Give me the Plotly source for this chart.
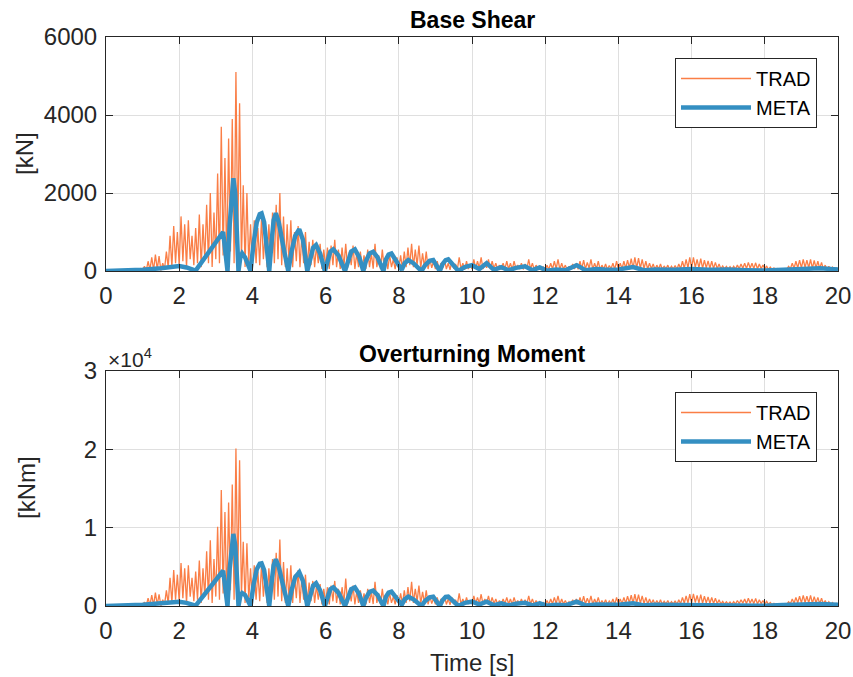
import numpy as np
import plotly.graph_objects as go

# ---------------- data ----------------
# TRAD sampled every 0.05 s from 0 to 20 s (alternating trough / peak)
trad_t = np.linspace(0, 20, 401)

trad_shear = [
    0, 5, 0, 10, 2, 15, 3, 20, 5, 25, 5, 30, 8, 35, 10, 40, 10, 50, 15, 60,
    20, 120, 10, 250, 30, 350, 20, 420, 40, 380, 10, 200, 50, 500, 80, 900, 100, 1150, 200, 1000,
    150, 1400, 250, 1200, 100, 1300, 300, 900, 150, 1100, 200, 1450, 100, 1200, 300, 1700, 200, 2000, 100, 1500,
    300, 2500, 200, 3700, 400, 2900, 100, 3400, 500, 3900, 200, 5100, 800, 4300, 300, 2200, 100, 2000, 200, 1200,
    100, 1300, 200, 1100, 150, 1400, 300, 1000, 100, 1200, 250, 1500, 200, 1700, 300, 2000, 150, 1400, 100, 1200,
    200, 1300, 100, 1000, 250, 1150, 100, 900, 200, 1000, 100, 750, 150, 800, 100, 650, 200, 700, 50, 550,
    100, 600, 50, 650, 150, 800, 100, 550, 50, 600, 100, 700, 80, 500, 150, 650, 50, 450, 100, 500,
    80, 400, 50, 550, 100, 450, 60, 700, 100, 400, 50, 550, 80, 350, 50, 400, 100, 300, 50, 350,
    80, 400, 50, 500, 100, 600, 150, 700, 100, 550, 150, 650, 80, 450, 100, 500, 50, 300, 80, 250,
    50, 250, 30, 200, 80, 300, 50, 200, 30, 250, 60, 180, 40, 350, 50, 200, 30, 250, 50, 150,
    50, 300, 60, 250, 80, 350, 50, 200, 80, 300, 50, 250, 70, 200, 50, 150, 40, 200, 60, 250,
    50, 200, 40, 250, 60, 150, 50, 200, 40, 180, 60, 300, 50, 200, 40, 150, 50, 120, 40, 100,
    30, 150, 40, 200, 50, 250, 60, 300, 40, 200, 50, 150, 30, 120, 40, 180, 50, 200, 40, 250,
    60, 280, 50, 220, 70, 300, 40, 200, 60, 250, 40, 150, 50, 180, 40, 140, 60, 200, 40, 250,
    50, 200, 60, 250, 70, 280, 80, 320, 70, 350, 80, 330, 70, 300, 60, 250, 50, 200, 60, 180,
    40, 150, 50, 180, 40, 130, 50, 150, 40, 120, 50, 140, 40, 180, 60, 250, 70, 300, 80, 350,
    80, 350, 90, 300, 80, 320, 70, 280, 80, 260, 70, 250, 60, 220, 60, 180, 50, 130, 50, 120,
    50, 110, 40, 120, 50, 150, 60, 180, 70, 200, 60, 220, 70, 200, 60, 210, 50, 180, 60, 150,
    50, 130, 40, 100, 30, 80, 30, 60, 20, 50, 30, 60, 40, 120, 60, 200, 70, 250, 80, 280,
    80, 300, 90, 280, 80, 300, 70, 270, 80, 250, 60, 220, 50, 150, 40, 120, 30, 100, 30, 80, 30,
]

trad_moment = [
    0, 20, 0, 40, 10, 60, 10, 80, 20, 100, 20, 120, 30, 140, 40, 160, 40, 200, 60, 240,
    80, 500, 40, 1000, 120, 1400, 80, 1700, 160, 1500, 40, 800, 200, 2000, 300, 3600, 400, 4600, 800, 4000,
    600, 5500, 1000, 4800, 400, 5200, 1200, 3600, 600, 4400, 800, 5800, 400, 4800, 1200, 7000, 800, 8400, 400, 6000,
    1200, 10100, 800, 14800, 1600, 12000, 400, 13200, 2000, 15500, 800, 20100, 3200, 18600, 1200, 8200, 400, 8000, 800, 4800,
    400, 5200, 800, 4400, 600, 5450, 1200, 4000, 400, 4800, 1000, 6000, 800, 6800, 1200, 8500, 600, 5600, 400, 4800,
    800, 5200, 400, 4000, 1000, 4600, 400, 3600, 800, 4000, 400, 3000, 600, 3200, 400, 2600, 800, 2800, 200, 2200,
    400, 2400, 200, 2600, 600, 3200, 400, 2200, 200, 2400, 400, 3500, 300, 2000, 600, 2600, 200, 1800, 400, 2000,
    300, 1600, 200, 2200, 400, 1800, 250, 3100, 400, 1600, 200, 2200, 300, 1400, 200, 1600, 400, 1200, 200, 1400,
    300, 1600, 200, 2000, 400, 2400, 600, 3100, 400, 2200, 600, 2600, 300, 1800, 400, 2000, 200, 1200, 300, 1000,
    200, 1100, 150, 900, 350, 1300, 200, 900, 150, 1100, 250, 800, 200, 1600, 250, 900, 150, 1100, 250, 700,
    250, 1300, 300, 1100, 350, 1500, 250, 900, 350, 1300, 250, 1100, 300, 900, 250, 700, 200, 900, 300, 1100,
    250, 900, 200, 1100, 300, 700, 250, 900, 200, 800, 300, 1300, 250, 900, 200, 700, 250, 550, 200, 450,
    150, 700, 200, 900, 250, 1100, 300, 1300, 200, 900, 250, 700, 150, 550, 200, 800, 250, 900, 200, 1100,
    300, 1250, 250, 1000, 350, 1300, 200, 900, 300, 1100, 200, 700, 250, 800, 200, 650, 300, 900, 200, 1100,
    250, 900, 300, 1100, 350, 1250, 400, 1400, 350, 1500, 400, 1450, 350, 1300, 300, 1100, 250, 900, 300, 800,
    200, 700, 250, 800, 200, 600, 250, 700, 200, 550, 250, 650, 200, 800, 300, 1100, 350, 1300, 400, 1500,
    400, 1550, 450, 1350, 400, 1450, 350, 1250, 400, 1150, 350, 1100, 300, 1000, 300, 800, 250, 600, 250, 550,
    250, 500, 200, 550, 250, 700, 300, 800, 350, 900, 300, 1000, 350, 900, 300, 950, 250, 800, 300, 700,
    250, 600, 200, 450, 150, 350, 150, 280, 100, 230, 150, 280, 200, 550, 300, 900, 350, 1100, 400, 1250,
    400, 1350, 450, 1250, 400, 1350, 350, 1200, 400, 1100, 300, 1000, 250, 700, 200, 550, 150, 450, 150, 350, 150,
]

# META (smoother response)
meta_t = [
    0.0, 0.5, 1.0, 1.5, 1.8, 2.0, 2.2, 2.45,
    3.2, 3.32, 3.38, 3.44, 3.48, 3.53, 3.58, 3.62, 3.67, 3.72, 3.8, 3.88, 3.95,
    4.03, 4.12, 4.2, 4.25, 4.32, 4.4, 4.46,
    4.52, 4.58, 4.64, 4.72, 4.85, 4.98,
    5.07, 5.17, 5.28, 5.38, 5.5,
    5.58, 5.66, 5.74, 5.85, 5.98,
    6.06, 6.13, 6.21, 6.35, 6.53,
    6.62, 6.7, 6.8, 6.92, 7.03,
    7.1, 7.2, 7.3, 7.42, 7.58,
    7.65, 7.72, 7.8, 7.95, 8.08,
    8.16, 8.26, 8.4, 8.62,
    8.72, 8.84, 8.94, 9.03, 9.12,
    9.2, 9.28, 9.35, 9.48, 9.63,
    9.8, 10.0, 10.2, 10.4, 10.6, 10.8, 11.0, 11.2, 11.45, 11.65, 11.85, 12.05,
    12.3, 12.55, 12.86, 13.1, 13.4, 13.7, 14.0, 14.4, 14.7, 15.0, 15.5, 16.0,
    16.5, 17.0, 17.5, 18.0, 18.5, 19.0, 19.5, 20.0,
]

meta_shear = [
    0, 10, 30, 70, 110, 130, 90, 10,
    1000, 0, 1200, 2200, 2380, 2000, 900, 0, 350, 450, 350, 150, 0,
    700, 1250, 1460, 1480, 1250, 600, 0,
    700, 1300, 1480, 1250, 600, 0,
    500, 900, 1070, 800, 0,
    350, 600, 667, 450, 0,
    300, 500, 555, 400, 0,
    300, 500, 555, 350, 0,
    250, 450, 495, 350, 0,
    300, 420, 450, 250, 30,
    200, 280, 200, 0,
    150, 260, 280, 150, 0,
    180, 280, 300, 150, 0,
    100, 150, 50, 200, 30, 100, 20, 80, 120, 20, 90, 10,
    40, 20, 150, 20, 50, 30, 40, 100, 20, 40, 30, 50,
    30, 40, 20, 10, 30, 60, 70, 40,
]

meta_moment = [
    0, 50, 150, 350, 500, 550, 400, 50,
    4500, 0, 4800, 8500, 9200, 7800, 3500, 0, 1300, 1650, 1400, 600, 0,
    2700, 4700, 5400, 5450, 4600, 2200, 0,
    2800, 5200, 5960, 5000, 2400, 0,
    2000, 3700, 4300, 3200, 0,
    1500, 2600, 2900, 2000, 0,
    1300, 2150, 2380, 1700, 0,
    1300, 2150, 2380, 1500, 0,
    1000, 1800, 1960, 1400, 0,
    1200, 1700, 1830, 1000, 150,
    850, 1190, 850, 0,
    650, 1100, 1190, 650, 0,
    750, 1150, 1190, 600, 0,
    400, 550, 200, 550, 100, 340, 80, 300, 400, 80, 340, 40,
    150, 80, 550, 80, 200, 120, 150, 340, 80, 150, 120, 180,
    120, 150, 80, 40, 120, 200, 250, 150,
]

x_ticks = [0, 2, 4, 6, 8, 10, 12, 14, 16, 18, 20]
shear_ticks = [0, 2000, 4000, 6000]
moment_ticks = [0, 10000, 20000, 30000]
moment_ticktext = ["0", "1", "2", "3"]

# ---------------- style ----------------
ORANGE = "#FA7E46"
BLUE = "#348FC2"
FONT = "Liberation Sans, Arial, sans-serif"
GRID = "#DFDFDF"
AXC = "#262626"
TICK_SIZE = 24

fig = go.Figure()

fig.add_trace(go.Scatter(x=trad_t, y=trad_shear, mode="lines", name="TRAD",
                         line=dict(color=ORANGE, width=1.3), xaxis="x", yaxis="y",
                         legend="legend"))
fig.add_trace(go.Scatter(x=meta_t, y=meta_shear, mode="lines", name="META",
                         line=dict(color=BLUE, width=4.5), xaxis="x", yaxis="y",
                         legend="legend"))
fig.add_trace(go.Scatter(x=trad_t, y=trad_moment, mode="lines", name="TRAD",
                         line=dict(color=ORANGE, width=1.3), xaxis="x2", yaxis="y2",
                         legend="legend2"))
fig.add_trace(go.Scatter(x=meta_t, y=meta_moment, mode="lines", name="META",
                         line=dict(color=BLUE, width=4.5), xaxis="x2", yaxis="y2",
                         legend="legend2"))

W, H = 853, 677
ml, mr, mt, mb = 106, 15, 37, 71
ph = H - mt - mb


def py(pix):
    return (H - mb - pix) / ph


def px(pix):
    return (pix - ml) / (W - ml - mr)


axis_common = dict(showline=True, linecolor=AXC, linewidth=1, mirror="ticks",
                   ticks="inside", ticklen=7, tickcolor=AXC, showgrid=True,
                   gridcolor=GRID, gridwidth=1, zeroline=False, automargin=False,
                   tickfont=dict(family=FONT, size=TICK_SIZE, color=AXC))

legend_common = dict(xanchor="right", yanchor="top", bgcolor="white",
                     bordercolor=AXC, borderwidth=1,
                     font=dict(family=FONT, size=20, color="#000000"),
                     itemwidth=70, tracegroupgap=0)

fig.update_layout(
    width=W, height=H,
    margin=dict(l=ml, r=mr, t=mt, b=mb, autoexpand=False),
    paper_bgcolor="white", plot_bgcolor="white",
    font=dict(family=FONT, size=TICK_SIZE, color=AXC),
    xaxis=dict(domain=[0, 1], range=[0, 20], tickvals=x_ticks, anchor="y",
               ticklabelstandoff=3, **axis_common),
    yaxis=dict(domain=[py(271), 1], range=[0, 6000], tickvals=shear_ticks, anchor="x",
               ticklabelstandoff=3, **axis_common),
    xaxis2=dict(domain=[0, 1], range=[0, 20], tickvals=x_ticks, anchor="y2",
                ticklabelstandoff=3, **axis_common),
    yaxis2=dict(domain=[0, py(371)], range=[0, 30000], tickvals=moment_ticks,
                ticktext=moment_ticktext, anchor="x2", ticklabelstandoff=3,
                **axis_common),
    legend=dict(x=px(817), y=py(58), **legend_common),
    legend2=dict(x=px(817), y=py(392), **legend_common),
    showlegend=True,
    annotations=[
        dict(text="<b>Base Shear</b>", x=0.5, y=py(20), xref="paper", yref="paper",
             showarrow=False, font=dict(family=FONT, size=23, color="#000000"),
             xanchor="center", yanchor="middle"),
        dict(text="<b>Overturning Moment</b>", x=0.5, y=py(354), xref="paper", yref="paper",
             showarrow=False, font=dict(family=FONT, size=23, color="#000000"),
             xanchor="center", yanchor="middle"),
        dict(text="×10<sup>4</sup>", x=0, y=py(358), xref="paper", yref="paper",
             showarrow=False, font=dict(family=FONT, size=21, color=AXC),
             xanchor="left", yanchor="middle"),
        dict(text="[kN]", x=px(25), y=py(154), xref="paper", yref="paper",
             showarrow=False, textangle=-90, font=dict(family=FONT, size=TICK_SIZE, color=AXC),
             xanchor="center", yanchor="middle"),
        dict(text="[kNm]", x=px(27), y=py(488), xref="paper", yref="paper",
             showarrow=False, textangle=-90, font=dict(family=FONT, size=TICK_SIZE, color=AXC),
             xanchor="center", yanchor="middle"),
        dict(text="Time [s]", x=0.5, y=py(662), xref="paper", yref="paper",
             showarrow=False, font=dict(family=FONT, size=TICK_SIZE, color=AXC),
             xanchor="center", yanchor="middle"),
    ],
)

fig.write_html("out.html")
